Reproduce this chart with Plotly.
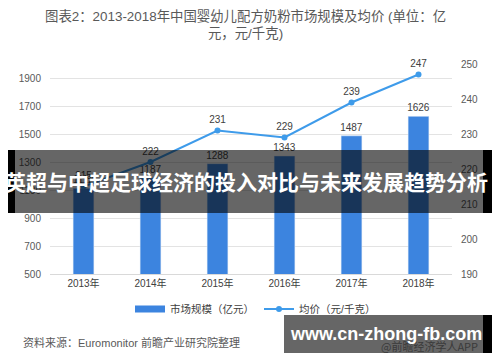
import plotly.graph_objects as go

years = ["2013年", "2014年", "2015年", "2016年", "2017年", "2018年"]
market_size = [1112, 1187, 1288, 1343, 1487, 1626]
avg_price = [215, 222, 231, 229, 239, 247]
left_ticks = [500, 700, 900, 1100, 1300, 1500, 1700, 1900]
right_ticks = [190, 200, 210, 220, 230, 240, 250]

FONT = "Arial, Liberation Sans, Noto Sans CJK SC, sans-serif"
CJK = "Noto Sans CJK SC, sans-serif"
BAR_COLOR = "#3C84DF"
LINE_COLOR = "#3E9BEA"

# plot area in pixels: x 50..452, y 64..274
L, R, T, B = 50, 452, 64, 274
def px(x):
    return (x - L) / (R - L)
def py(y):
    return (B - y) / (B - T)

fig = go.Figure()
fig.add_trace(go.Bar(
    x=years, y=market_size, name="市场规模（亿元）",
    marker_color=BAR_COLOR, width=0.31, showlegend=False,
    text=[str(v) for v in market_size], textposition="outside",
    constraintext="none",
    textfont=dict(size=10, color="#404040", family=FONT),
    cliponaxis=False,
))
# legend entry for the bars (wide flat swatch like the reference)
fig.add_trace(go.Scatter(
    x=[None], y=[None], name="市场规模（亿元）", mode="lines",
    line=dict(color=BAR_COLOR, width=7), showlegend=True, hoverinfo="skip",
))
fig.add_trace(go.Scatter(
    x=years, y=avg_price, name="均价（元/千克）", yaxis="y2",
    mode="lines+markers+text",
    line=dict(color=LINE_COLOR, width=2),
    marker=dict(size=6, color=LINE_COLOR),
    text=[str(v) for v in avg_price], textposition="top center",
    textfont=dict(size=10, color="#404040", family=FONT),
    cliponaxis=False,
))

shapes = [
    # banner overlay
    dict(type="rect", xref="paper", yref="paper", x0=px(15), x1=px(483), y0=py(213), y1=py(150),
         fillcolor="rgba(0,0,0,0.6)", line_width=0, layer="above"),
    dict(type="rect", xref="paper", yref="paper", x0=px(8), x1=px(15), y0=py(213), y1=py(150),
         fillcolor="black", line_width=0, layer="above"),
    dict(type="rect", xref="paper", yref="paper", x0=px(483), x1=px(492), y0=py(213), y1=py(150),
         fillcolor="black", line_width=0, layer="above"),
    # website box
    dict(type="rect", xref="paper", yref="paper", x0=px(284), x1=px(483), y0=py(353), y1=py(315),
         fillcolor="rgba(0,0,0,0.6)", line_width=0, layer="above"),
    dict(type="rect", xref="paper", yref="paper", x0=px(483), x1=px(492), y0=py(353), y1=py(315),
         fillcolor="black", line_width=0, layer="above"),
]

annotations = [
    dict(text="图表2：2013-2018年中国婴幼儿配方奶粉市场规模及均价 (单位：亿<br>元，元/千克)",
         xref="paper", yref="paper", x=px(245), y=py(6), xanchor="center", yanchor="top",
         showarrow=False, font=dict(size=13.4, color="#595959", family=FONT), align="center"),
    dict(text="资料来源：Euromonitor 前瞻产业研究院整理",
         xref="paper", yref="paper", x=px(21), y=py(342), xanchor="left", yanchor="middle",
         showarrow=False, font=dict(size=11, color="#595959", family=FONT)),
    dict(text="英超与中超足球经济的投入对比与未来发展趋势分析",
         xref="paper", yref="paper", x=px(246), y=py(181), xanchor="center", yanchor="middle",
         showarrow=False, font=dict(size=21, color="white", family=CJK, weight="bold")),
    dict(text="@前瞻经济学人APP",
         xref="paper", yref="paper", x=px(480), y=py(346), xanchor="right", yanchor="middle",
         showarrow=False, font=dict(size=11, color="#3a3a3a", family=CJK)),
    dict(text="www.cn-zhong-fb.com",
         xref="paper", yref="paper", x=px(386), y=py(334), xanchor="center", yanchor="middle",
         showarrow=False, font=dict(size=18, color="white", family=FONT, weight="bold")),
]

fig.update_layout(
    width=500, height=362,
    margin=dict(l=L, r=500 - R, t=T, b=362 - B, autoexpand=False),
    paper_bgcolor="white", plot_bgcolor="white",
    showlegend=True,
    legend=dict(orientation="h", x=px(130), y=py(309), xanchor="left", yanchor="middle",
                font=dict(size=10.5, color="#404040", family=FONT),
                bgcolor="rgba(0,0,0,0)", traceorder="normal"),
    xaxis=dict(showline=True, linecolor="#D9D9D9", linewidth=1, ticks="", automargin=False,
               tickfont=dict(size=10, color="#404040", family=FONT), showgrid=False),
    yaxis=dict(range=[500, 2000], tickvals=left_ticks, showgrid=True, gridcolor="#E3E3E3",
               zeroline=False, ticks="", automargin=False,
               tickfont=dict(size=10, color="#595959", family=FONT), ticklabelstandoff=8),
    yaxis2=dict(range=[190, 250], tickvals=right_ticks, overlaying="y", side="right",
                showgrid=False, zeroline=False, ticks="", automargin=False,
                tickfont=dict(size=10, color="#595959", family=FONT), ticklabelstandoff=8),
    shapes=shapes,
    annotations=annotations,
)

fig.write_html("out.html",
               config={"displayModeBar": False},
               post_script="document.body.style.margin='0';document.body.style.overflow='hidden';")
